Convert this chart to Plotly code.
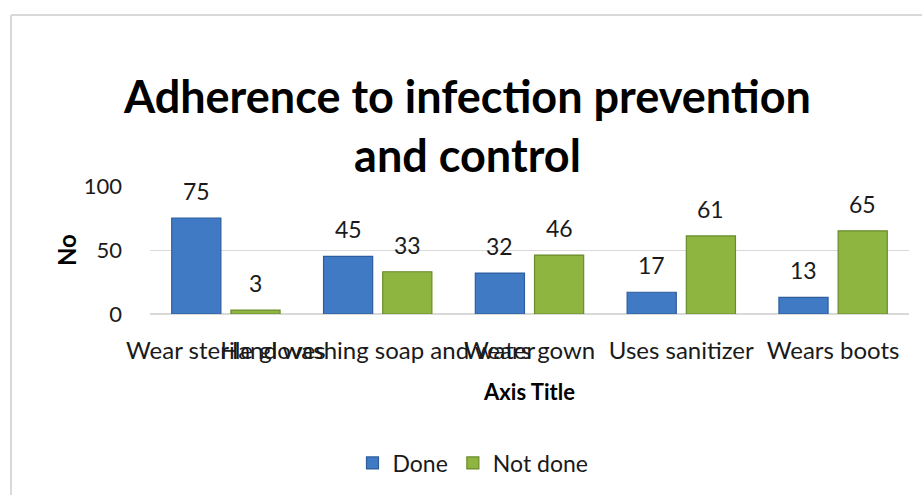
import plotly.graph_objects as go

# Survey results: adherence to infection prevention and control practices
categories = ["Wear sterile gloves", "Hand washing soap and water", "Wears gown",
              "Uses sanitizer", "Wears boots"]
done = [75, 45, 32, 17, 13]
not_done = [3, 33, 46, 61, 65]

W, H = 922, 495
ML, MR, MT, MB = 150, 13, 186, 181
BARGAP = 0.22
BARGROUPGAP = 0.17
FONT = "Lato, 'Open Sans', sans-serif"

plot_w = W - ML - MR
cat_w = plot_w / len(categories)
slot = cat_w * (1 - BARGAP) / 2

fig = go.Figure()
fig.add_trace(go.Bar(
    name="Done", x=categories, y=done,
    marker=dict(color="#4079C4", line=dict(color="#2D5E9C", width=1.2)),
))
fig.add_trace(go.Bar(
    name="Not done", x=categories, y=not_done,
    marker=dict(color="#8DB540", line=dict(color="#6A8C2A", width=1.2)),
))

# value labels above each bar
annotations = []
for series, shift in ((done, -slot / 2), (not_done, slot / 2)):
    for cat, val in zip(categories, series):
        annotations.append(dict(
            x=cat, y=val, xref="x", yref="y", text=str(val), showarrow=False,
            xshift=shift, yshift=11, yanchor="bottom",
            font=dict(family=FONT, size=23, color="#1a1a1a"),
        ))

# y-axis title placed beside the tick labels
annotations.append(dict(
    text="<b>No</b>", textangle=-90, showarrow=False,
    xref="paper", x=(66 - ML) / plot_w, xanchor="center",
    yref="paper", y=0.5, yanchor="middle",
    font=dict(family=FONT, size=24, color="#000000"),
))

# light frame around the chart area
def px_x(p):
    return (p - ML) / plot_w

def px_y(p):
    return 1 - (p - MT) / (H - MT - MB)

frame = dict(color="#D9D9D9", width=2)
shapes = [
    dict(type="line", xref="paper", yref="paper", x0=px_x(11), x1=px_x(W + 5),
         y0=px_y(15), y1=px_y(15), line=frame, layer="below"),
    dict(type="line", xref="paper", yref="paper", x0=px_x(11), x1=px_x(11),
         y0=px_y(15), y1=px_y(H + 5), line=frame, layer="below"),
]

fig.update_layout(
    width=W, height=H,
    margin=dict(l=ML, r=MR, t=MT, b=MB, autoexpand=False),
    paper_bgcolor="white", plot_bgcolor="white",
    font=dict(family=FONT, size=21, color="#1a1a1a"),
    title=dict(
        text="<b>Adherence to infection prevention<br>and control</b>",
        x=0.507, xanchor="center", y=1 - 113 / H, yanchor="top",
        font=dict(family=FONT, size=45, color="#000000"),
    ),
    barmode="group", bargap=BARGAP, bargroupgap=BARGROUPGAP,
    showlegend=True,
    legend=dict(
        orientation="h", x=0.513, xref="container", xanchor="center",
        y=1 - 463 / H, yref="container", yanchor="middle",
        font=dict(family=FONT, size=23), itemclick=False,
    ),
    xaxis=dict(
        tickangle=0, showgrid=False, showline=False, ticks="",
        ticklabelstandoff=20,
        tickfont=dict(family=FONT, size=24),
        title=dict(text="<b>Axis Title</b>", standoff=21,
                   font=dict(family=FONT, size=22, color="#000000")),
    ),
    yaxis=dict(
        range=[0, 100], tickvals=[0, 50, 100], showgrid=True,
        gridcolor="#D9D9D9", gridwidth=1, zeroline=True, zerolinecolor="#D9D9D9",
        zerolinewidth=2, showline=False, ticks="", ticklabelstandoff=27,
        tickfont=dict(family=FONT, size=22),
    ),
    annotations=annotations,
    shapes=shapes,
)

fig.write_html("out.html", config={"displayModeBar": False})
